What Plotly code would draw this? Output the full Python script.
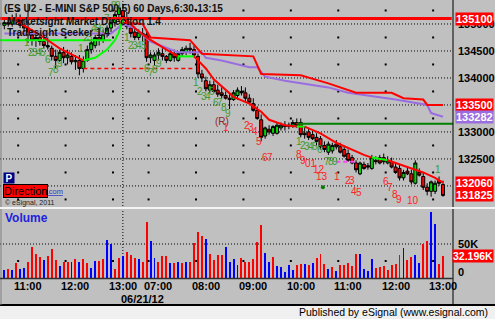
import plotly.graph_objects as go
import pandas as pd

# ---------------- data ----------------
day1 = pd.date_range("2012-06-20 10:30", "2012-06-20 13:10", freq="5min")
day2 = pd.date_range("2012-06-21 06:30", "2012-06-21 13:00", freq="5min")
bar_times = list(day1) + list(day2)

open_ = [134975,135025,135000,135100,135075,134975,134925,134800,134700,134750,
         134675,134600,134550,134400,134325,134475,134375,134400,134300,134325,
         134175,134325,134525,134600,134750,134700,134825,134925,135025,135175,
         135250,135100,134925,134850,134750,134825,134800,134375,134325,134425,
         134450,134400,134325,134450,134325,134450,134475,134550,134525,134400,
         134075,133950,133775,133875,133775,133725,133675,133625,133600,133675,
         133750,133725,133625,133525,133400,133225,132925,133050,132975,132975,
         133075,133125,133100,133125,133175,133175,132975,133000,132950,132900,
         132875,132750,132625,132650,132775,132725,132675,132600,132525,132425,
         132225,132400,132375,132325,132475,132525,132525,132425,132450,132350,
         132325,132150,132275,132225,132050,132250,132175,131975,131900,131900,
         132100,132025]
high = [135100,135125,135175,135200,135175,135100,135375,134900,134825,134825,
        134800,134750,134600,134525,134525,134575,134525,134475,134425,134425,
        134400,134600,134700,134800,134850,134900,134975,135075,135225,135350,
        135375,135225,134975,134950,134900,134925,134850,134475,134475,134550,
        134550,134425,134525,134525,134475,134575,134600,134650,134600,134450,
        134150,134025,133950,133950,133875,133825,133750,133700,133775,133825,
        133850,133825,133700,133625,133475,133325,133100,133125,133125,133175,
        133175,133200,133175,133225,133250,133250,133100,133075,133025,132975,
        132925,132825,132825,132800,132850,132800,132750,132675,132575,132475,
        132450,132450,132425,132575,132550,132575,132600,132550,132525,132425,
        132400,132300,132350,132300,132475,132325,132250,132050,132100,132100,
        132175,132100]
low = [134900,134950,134950,135000,134925,134850,134650,134600,134575,134600,
       134550,134525,134325,134175,134300,134275,134250,134250,134150,134050,
       134100,134300,134450,134550,134600,134650,134750,134850,134950,135100,
       135025,134900,134750,134700,134700,134675,134300,134275,134225,134325,
       134325,134275,134300,134300,134300,134400,134425,134450,134400,134000,
       133925,133750,133725,133725,133650,133625,133600,133425,133575,133600,
       133675,133575,133525,133375,133225,132825,132875,132950,132925,132950,
       133025,133025,133050,133075,133075,132900,132875,132850,132850,132750,
       132675,132625,132575,132600,132675,132600,132525,132450,132400,132250,
       132200,132300,132300,132300,132400,132400,132400,132400,132325,132225,
       132100,132100,132200,132025,132025,132175,131925,131825,131800,131850,
       132000,131800]
close = [135025,135000,135100,135075,134975,134925,134800,134700,134750,134675,
         134600,134575,134400,134325,134475,134375,134425,134300,134325,134175,
         134325,134525,134650,134750,134700,134825,134925,135025,135175,135300,
         135125,134950,134825,134750,134850,134800,134375,134425,134425,134475,
         134400,134325,134450,134375,134450,134525,134550,134525,134425,134075,
         134000,133800,133875,133750,133700,133675,133625,133600,133725,133775,
         133725,133625,133550,133400,133250,132900,133075,133000,133100,133125,
         133125,133100,133125,133175,133125,132950,132950,132900,132875,132825,
         132725,132675,132775,132750,132725,132625,132550,132475,132425,132300,
         132425,132325,132350,132525,132450,132425,132450,132475,132350,132250,
         132150,132250,132225,132075,132425,132200,131975,131900,132075,132050,
         132050,131825]
volume_k = [11.8,13.2,11.8,22.0,13.2,14.7,23.5,45.6,35.3,30.9,
            26.5,32.3,42.6,26.5,17.6,23.5,23.5,23.5,27.9,23.5,
            27.9,22.0,14.7,25.0,25.0,27.9,55.9,50.0,13.2,29.4,
            32.3,38.2,33.8,29.4,27.9,23.5,82.3,54.4,29.4,23.5,
            32.3,32.3,22.0,22.0,23.5,22.0,23.5,23.5,51.5,67.6,
            61.7,57.3,35.3,26.5,33.8,33.8,45.6,23.5,27.9,19.1,
            29.4,23.5,23.5,27.9,52.9,77.9,36.8,23.5,30.9,17.6,
            16.2,8.8,19.1,11.8,19.1,20.6,20.6,19.1,22.0,29.4,
            35.3,20.6,13.2,16.2,10.3,19.1,19.1,22.0,17.6,35.3,
            35.3,13.2,10.3,27.9,14.7,16.2,17.6,11.8,19.1,20.6,
            33.8,44.1,26.5,30.9,33.8,22.0,50.0,54.4,97.0,80.0,
            20.6,32.196]
volume_dir = ("brbrbbrrrr" "brrrbrrbrb" "rrbbrrbbrr" "brrrbrrbbr" "rrbrbrbrrr"
              "rbrrrrbbbb" "rrrrrrbbrb" "bbbbrrbrbr" "rrbrbrrrrr" "bbbbrrrrrr"
              "rbrrbbrrbb" "rr")

# moving average (waypoints) and colour of each segment (g = rising, r = falling)
ma_idx = [2, 9, 14, 20, 23, 26, 28, 29, 30, 31, 33, 36, 41, 44, 48, 51, 53, 56, 58, 62,
          65, 67, 71, 74, 76, 80, 84, 87, 91, 93, 97, 103, 106, 109, 111]
ma_val = [135100, 134800, 134550, 134325, 134375, 134525, 134700, 134850, 135100, 135075,
          134925, 134750, 134525, 134400, 134400, 134175, 133975, 133775, 133650, 133525,
          133375, 133225, 133125, 133100, 133100, 132975, 132800, 132700, 132575, 132525,
          132475, 132325, 132250, 132150, 132060]
ma_seg = "rrrgggggrrrrrgrrrrrrrrrgrrrrrgrrrr"

band_idx = [29, 35, 37, 47, 50, 63, 65, 75, 82, 89, 98, 101, 106, 107, 111]
band_val = [135025, 135000, 134750, 134700, 134450, 134400, 134075, 134050, 133900,
            133725, 133725, 133625, 133600, 133500, 133500]

purple_idx = [0, 27, 30, 33, 37, 44, 50, 51, 55, 62, 64, 66, 71, 82, 87, 99, 107, 108, 111]
purple_val = [134825, 134825, 135000, 134925, 134675, 134475, 134475, 134375, 134325, 134200,
              134200, 134025, 133950, 133825, 133725, 133600, 133500, 133350, 133282]

level_top = 135100
seeker_level, seeker_from, seeker_to = 134700, -1.1, 27
dash_level, dash_from, dash_to = 134175, 20, 48
dkgreen_level, dkgreen_from, dkgreen_to = 133150, 74, 113.5
magenta_level, magenta_from, magenta_to = 132450, 84, 89
signal_dot_idx, signal_dot_val = 80.6, 131975

green_idx = [5.7, 6.8, 7.8, 8.8, 9.8, 11.0, 11.8, 13.1, 14.1,
             19.4, 20.7, 21.7, 22.7, 23.7, 24.7, 26.0, 27.8, 28.8,
             31.0, 32.1, 33.1, 34.1, 35.3, 36.1, 37.1, 38.1, 39.1,
             48.5, 49.5, 50.5, 51.5, 52.6, 53.6, 54.6, 55.6, 56.6,
             74.6, 75.6, 76.6, 77.6, 78.6, 79.9, 81.7, 82.7, 83.7, 109.7]
green_val = [134650, 134475, 134475, 134475, 134475, 134350, 134100, 134150, 134275,
             134550, 134750, 134750, 134925, 134925, 134925, 135100, 135350, 135350,
             134750, 134600, 134600, 134600, 134600, 134175, 134100, 134150, 134275,
             133925, 133750, 133650, 133650, 133750, 133550, 133550, 133450, 133350,
             132825, 132750, 132725, 132725, 132725, 132675, 132450, 132450, 132450, 132300]
green_txt = list("123456789" "123456789" "123456789" "123456789" "123456789" "1")

red_idx = [56.1, 61.4, 62.4, 63.4, 64.5, 66.0, 67.2, 74.6, 75.6, 77.6, 79.6, 80.4,
           84.2, 87.0, 88.0, 88.5, 89.8, 96.6, 97.6, 98.9, 99.9, 103.4]
red_val = [133075, 133125, 133075, 133000, 132825, 132525, 132525, 132575, 132475, 132425,
           132300, 132175, 132175, 132100, 132100, 131900, 131875, 132075, 131975, 131850,
           131750, 131725]
red_txt = ["1", "2", "3", "4", "5", "6", "7", "8", "9", "01", "12", "13",
           "1", "2", "3", "4", "5", "6", "7", "8", "9", "10"]
r_mark_idx, r_mark_val = 55.1, 133185

price_ticks = [132000, 132500, 133000, 133500, 134000, 134500, 135000]
price_marks = [135100, 133500, 133282, 132060, 131825]
price_mark_col = ["#ff0000", "#ff0000", "#9a6ee0", "#ff0000", "#ff0000"]
vol_tick = 50000
last_volume = 32196

# ---------------- geometry helpers (layout only) ----------------
W, H = 495, 319
def xp(px): return px / W
def yp(py): return 1 - py / H

XR = [-1.09, 113.53]
YR = [131610, 135444]
VR = [0, 100000]
FONT = "Liberation Sans, Arial, sans-serif"
GREEN_T = "#3f9a2c"
RED_T = "#ff2222"

n = len(bar_times)
xs = list(range(n))
fig = go.Figure()

# volume bars
fig.add_trace(go.Bar(x=xs, y=[v * 1000 for v in volume_k],
                     marker=dict(color=["#0000ff" if c == "b" else "#ff0000" for c in volume_dir],
                                 line=dict(width=0)),
                     width=0.24, xaxis="x2", yaxis="y2", hoverinfo="skip", showlegend=False))

# dot grid
hour_idx = [i for i, t in enumerate(bar_times) if t.minute == 0]
gx, gy, vx, vy = [], [], [], []
for h in hour_idx:
    for p in range(131750, 135300, 500):
        gx.append(h - 2.5); gy.append(p)
    vx.append(h - 2.5); vy.append(25000)
fig.add_trace(go.Scatter(x=gx, y=gy, mode="markers", xaxis="x", yaxis="y",
                         marker=dict(symbol="square", size=2, color="#000"),
                         hoverinfo="skip", showlegend=False))
fig.add_trace(go.Scatter(x=vx, y=vy, mode="markers", xaxis="x2", yaxis="y2",
                         marker=dict(symbol="square", size=2, color="#000"),
                         hoverinfo="skip", showlegend=False))

# candles
fig.add_trace(go.Candlestick(x=xs, open=open_, high=high, low=low, close=close,
                             increasing=dict(line=dict(color="#000", width=1), fillcolor="#00d800"),
                             decreasing=dict(line=dict(color="#000", width=1), fillcolor="#ff0000"),
                             whiskerwidth=0, xaxis="x", yaxis="y",
                             hoverinfo="skip", showlegend=False))

def line(xv, yv, color, width=2, dash="solid"):
    fig.add_trace(go.Scatter(x=xv, y=yv, mode="lines", xaxis="x", yaxis="y",
                             line=dict(color=color, width=width, dash=dash),
                             hoverinfo="skip", showlegend=False))

line([XR[0], 113.2], [level_top, level_top], "#ff0000", 3)
line([seeker_from, seeker_to], [seeker_level] * 2, "#00ff00", 2)
line([dash_from, dash_to], [dash_level] * 2, "#ff0000", 1.5, "4px,3px")
line([dkgreen_from, dkgreen_to], [dkgreen_level] * 2, "#008000", 2)
line([magenta_from, magenta_to], [magenta_level] * 2, "#ff44ff", 2, "4px,3px")
line(purple_idx, purple_val, "#9a6ee0", 2)
line(band_idx, band_val, "#ff0000", 2)

# MA segments grouped by colour
start = 0
for k in range(1, len(ma_seg) + 1):
    if k == len(ma_seg) or ma_seg[k] != ma_seg[start]:
        col = "#00ff00" if ma_seg[start] == "g" else "#ff0000"
        line(ma_idx[start:k + 1], ma_val[start:k + 1], col, 2)
        start = k

fig.add_trace(go.Scatter(x=[signal_dot_idx], y=[signal_dot_val], mode="markers",
                         xaxis="x", yaxis="y", marker=dict(color="#008000", size=4),
                         hoverinfo="skip", showlegend=False))

# ---------------- shapes ----------------
shapes = []
for p in price_ticks:
    shapes.append(dict(type="line", xref="paper", yref="y", x0=0, x1=xp(452), y0=p, y1=p,
                       line=dict(color="#000", width=1, dash="1px,2px"), layer="below"))
shapes.append(dict(type="line", xref="paper", yref="y2", x0=0, x1=xp(452), y0=vol_tick, y1=vol_tick,
                   line=dict(color="#000", width=1, dash="1px,2px"), layer="below"))
shapes.append(dict(type="line", xref="x", yref="paper", x0=hour_idx[2], x1=hour_idx[2],
                   y0=yp(278), y1=1, line=dict(color="#000", width=1, dash="1px,2px"), layer="below"))
shapes.append(dict(type="rect", xref="paper", yref="paper", x0=0, x1=1, y0=0, y1=yp(305),
                   fillcolor="#f0f0f0", line=dict(width=0)))
shapes.append(dict(type="line", xref="paper", yref="paper", x0=0, x1=1, y0=yp(305), y1=yp(305),
                   line=dict(color="#000", width=2)))
shapes.append(dict(type="line", xref="paper", yref="paper", x0=xp(453), x1=xp(453), y0=yp(305), y1=1,
                   line=dict(color="#000", width=1)))
shapes.append(dict(type="line", xref="paper", yref="paper", x0=xp(1), x1=xp(1), y0=yp(305), y1=1,
                   line=dict(color="#808080", width=1)))
shapes.append(dict(type="line", xref="paper", yref="paper", x0=0, x1=xp(453), y0=yp(278.5), y1=yp(278.5),
                   line=dict(color="#303030", width=1.5)))
shapes.append(dict(type="line", xref="paper", yref="paper", x0=0, x1=1, y0=yp(208), y1=yp(208),
                   line=dict(color="#f4f4f4", width=2)))

# ---------------- annotations ----------------
ann = []
def text(x, y, t, size=10, color="#000", xanchor="left", xref="paper", yref="paper", **kw):
    d = dict(x=x, y=y, text=t, xref=xref, yref=yref, showarrow=False, xanchor=xanchor,
             yanchor="middle", font=dict(family=FONT, size=size, color=color))
    d.update(kw)
    ann.append(d)

for i, t, v in zip(green_idx, green_txt, green_val):
    text(i, v, t, 10, GREEN_T, "center", "x", "y")
for i, t, v in zip(red_idx, red_txt, red_val):
    text(i, v, t, 10, RED_T, "center", "x", "y")
text(r_mark_idx, r_mark_val, "(R)", 10, "#8a2a2a", "center", "x", "y")

text(xp(2), yp(8), "<b>(ES U2 - E-MINI S&P 500,5) 60 Days,6:30-13:15</b>", 10, "#111")
text(xp(5), yp(21), "<b>Marketsight Market Direction 1.4</b>", 10, "#111")
text(xp(5), yp(33), "<b>Tradesight Seeker 1.4</b>", 10, "#111")

for p in price_ticks:
    if min(abs(p - m) for m in price_marks) > 70:
        text(xp(456), p, "<b>%d</b>" % p, 11, "#000", yref="y")
for p, c in zip(price_marks, price_mark_col):
    text(xp(455), p, "<b>%d</b>" % p, 11, "#fff", yref="y", bgcolor=c, borderpad=0)
text(xp(456), vol_tick, "<b>50K</b>", 11, "#000", yref="y2")
text(xp(456), yp(272), "<b>0</b>", 11, "#000")
text(xp(494), last_volume, "<b>%.3fK</b>" % (last_volume / 1000), 10.5, "#fff", "right",
     yref="y2", bgcolor="#ff0000", borderpad=0)

for h in hour_idx:
    text(h, yp(286), "<b>%s</b>" % bar_times[h].strftime("%H:%M"), 11, "#000", "center", "x")
text(len(day1) + 2, yp(299), "<b>%s</b>" % bar_times[len(day1)].strftime("%m/%d/%y"), 11, "#000", "center", "x")

text(xp(3), yp(218), "<b>Volume</b>", 12, "#2222dd")
text(xp(2), yp(191), "<u>www.esignal.com</u>", 7.5, "#3333cc")
text(xp(3), yp(177.5), "<b>P</b>", 10, "#fff", bgcolor="#000080", width=10, height=10, borderpad=0)
text(xp(3), yp(191), "Direction", 11, "#000", bgcolor="#ff0000", bordercolor="#000",
     borderwidth=1, borderpad=0)
text(xp(3), yp(203), "© eSignal, 2011", 7, "#222")
text(xp(490), yp(312), "Published by eSignal (www.esignal.com)", 10.5, "#000", "right")

ax = dict(range=XR, domain=[0, xp(453)], showgrid=False, zeroline=False, showticklabels=False,
          showline=False, ticks="", fixedrange=True)
fig.update_layout(
    width=W, height=H, margin=dict(l=0, r=0, t=0, b=0),
    paper_bgcolor="#c0c0c0", plot_bgcolor="#c0c0c0",
    xaxis=dict(ax, anchor="y", rangeslider=dict(visible=False)),
    xaxis2=dict(ax, anchor="y2", matches="x"),
    yaxis=dict(range=YR, domain=[yp(207), 1], showgrid=False, zeroline=False,
               showticklabels=False, fixedrange=True),
    yaxis2=dict(range=VR, domain=[yp(278), yp(210)], showgrid=False, zeroline=False,
                showticklabels=False, fixedrange=True),
    shapes=shapes, annotations=ann, bargap=0, boxgap=0.15, boxgroupgap=0.1,
    showlegend=False, font=dict(family=FONT),
)
fig.write_html("out.html")
